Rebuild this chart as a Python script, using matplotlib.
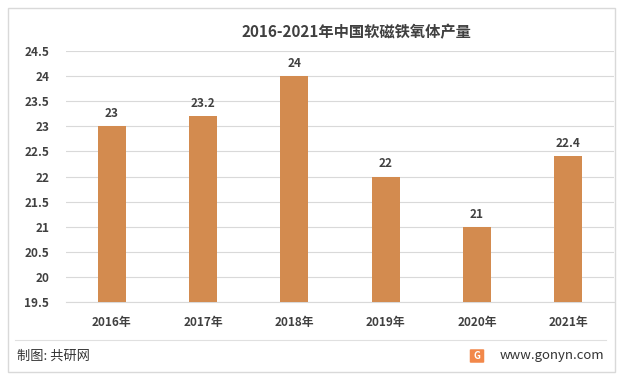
import matplotlib.pyplot as plt
from matplotlib.patches import Rectangle, FancyBboxPatch
import numpy as np

plt.rcParams['font.family'] = ['Noto Sans CJK SC', 'DejaVu Sans']

years = ['2016年', '2017年', '2018年', '2019年', '2020年', '2021年']
output = [23, 23.2, 24, 22, 21, 22.4]
labels = ['23', '23.2', '24', '22', '21', '22.4']

fig = plt.figure(figsize=(6.21, 3.79), dpi=100)

# outer frame
fig.patches.append(Rectangle((8 / 621, 1 - 372 / 379), 607 / 621, 364 / 379,
                             transform=fig.transFigure, fill=False,
                             edgecolor='#d9d9d9', linewidth=1))

ax = fig.add_axes([66 / 621, 1 - 302 / 379, 548 / 621, 251 / 379])
x = np.arange(len(years))
bottom = 19.5
ax.bar(x, np.array(output) - bottom, bottom=bottom, width=0.31,
       color='#d38b4f', zorder=3)
for xi, v, t in zip(x, output, labels):
    ax.text(xi, v + 0.12, t, ha='center', va='bottom', fontsize=8.5,
            fontweight='bold', color='#404040')

ax.set_xlim(-0.5, len(years) - 0.5)
ax.set_ylim(19.5, 24.5)
ax.set_yticks(np.arange(19.5, 24.51, 0.5))
ax.set_yticklabels(['%g' % v for v in np.arange(19.5, 24.51, 0.5)])
ax.set_xticks(x)
ax.set_xticklabels(years)
ax.grid(axis='y', color='#d9d9d9', linewidth=0.8, zorder=0)
for s in ['top', 'right', 'left']:
    ax.spines[s].set_visible(False)
ax.spines['bottom'].set_color('#d9d9d9')
ax.tick_params(length=0, colors='#404040', labelsize=8.5, pad=12)
ax.tick_params(axis='x', pad=10)
for lbl in ax.get_xticklabels() + ax.get_yticklabels():
    lbl.set_fontweight('bold')

fig.text(356 / 621, 1 - 32 / 379, '2016-2021年中国软磁铁氧体产量',
         ha='center', va='center', fontsize=11, fontweight='bold', color='#404040')

# footer
fig.add_artist(plt.Line2D([15 / 621, 606 / 621], [1 - 340 / 379, 1 - 340 / 379],
                          color='#e0e0e0', linewidth=0.8))
fig.text(17 / 621, 1 - 356 / 379, '制图: 共研网', ha='left', va='center',
         fontsize=9.5, color='#333333')
fig.patches.append(FancyBboxPatch((471 / 621, 1 - 362 / 379), 12 / 621, 12 / 379,
                                  boxstyle='round,pad=0.002', transform=fig.transFigure,
                                  facecolor='#f2884a', edgecolor='none'))
fig.text(477 / 621, 1 - 356 / 379, 'G', ha='center', va='center', fontsize=7,
         fontweight='bold', color='white')
fig.text(604 / 621, 1 - 355 / 379, 'www.gonyn.com', ha='right', va='center',
         fontsize=9.5, color='#333333')

fig.savefig('out.png', dpi=100)
